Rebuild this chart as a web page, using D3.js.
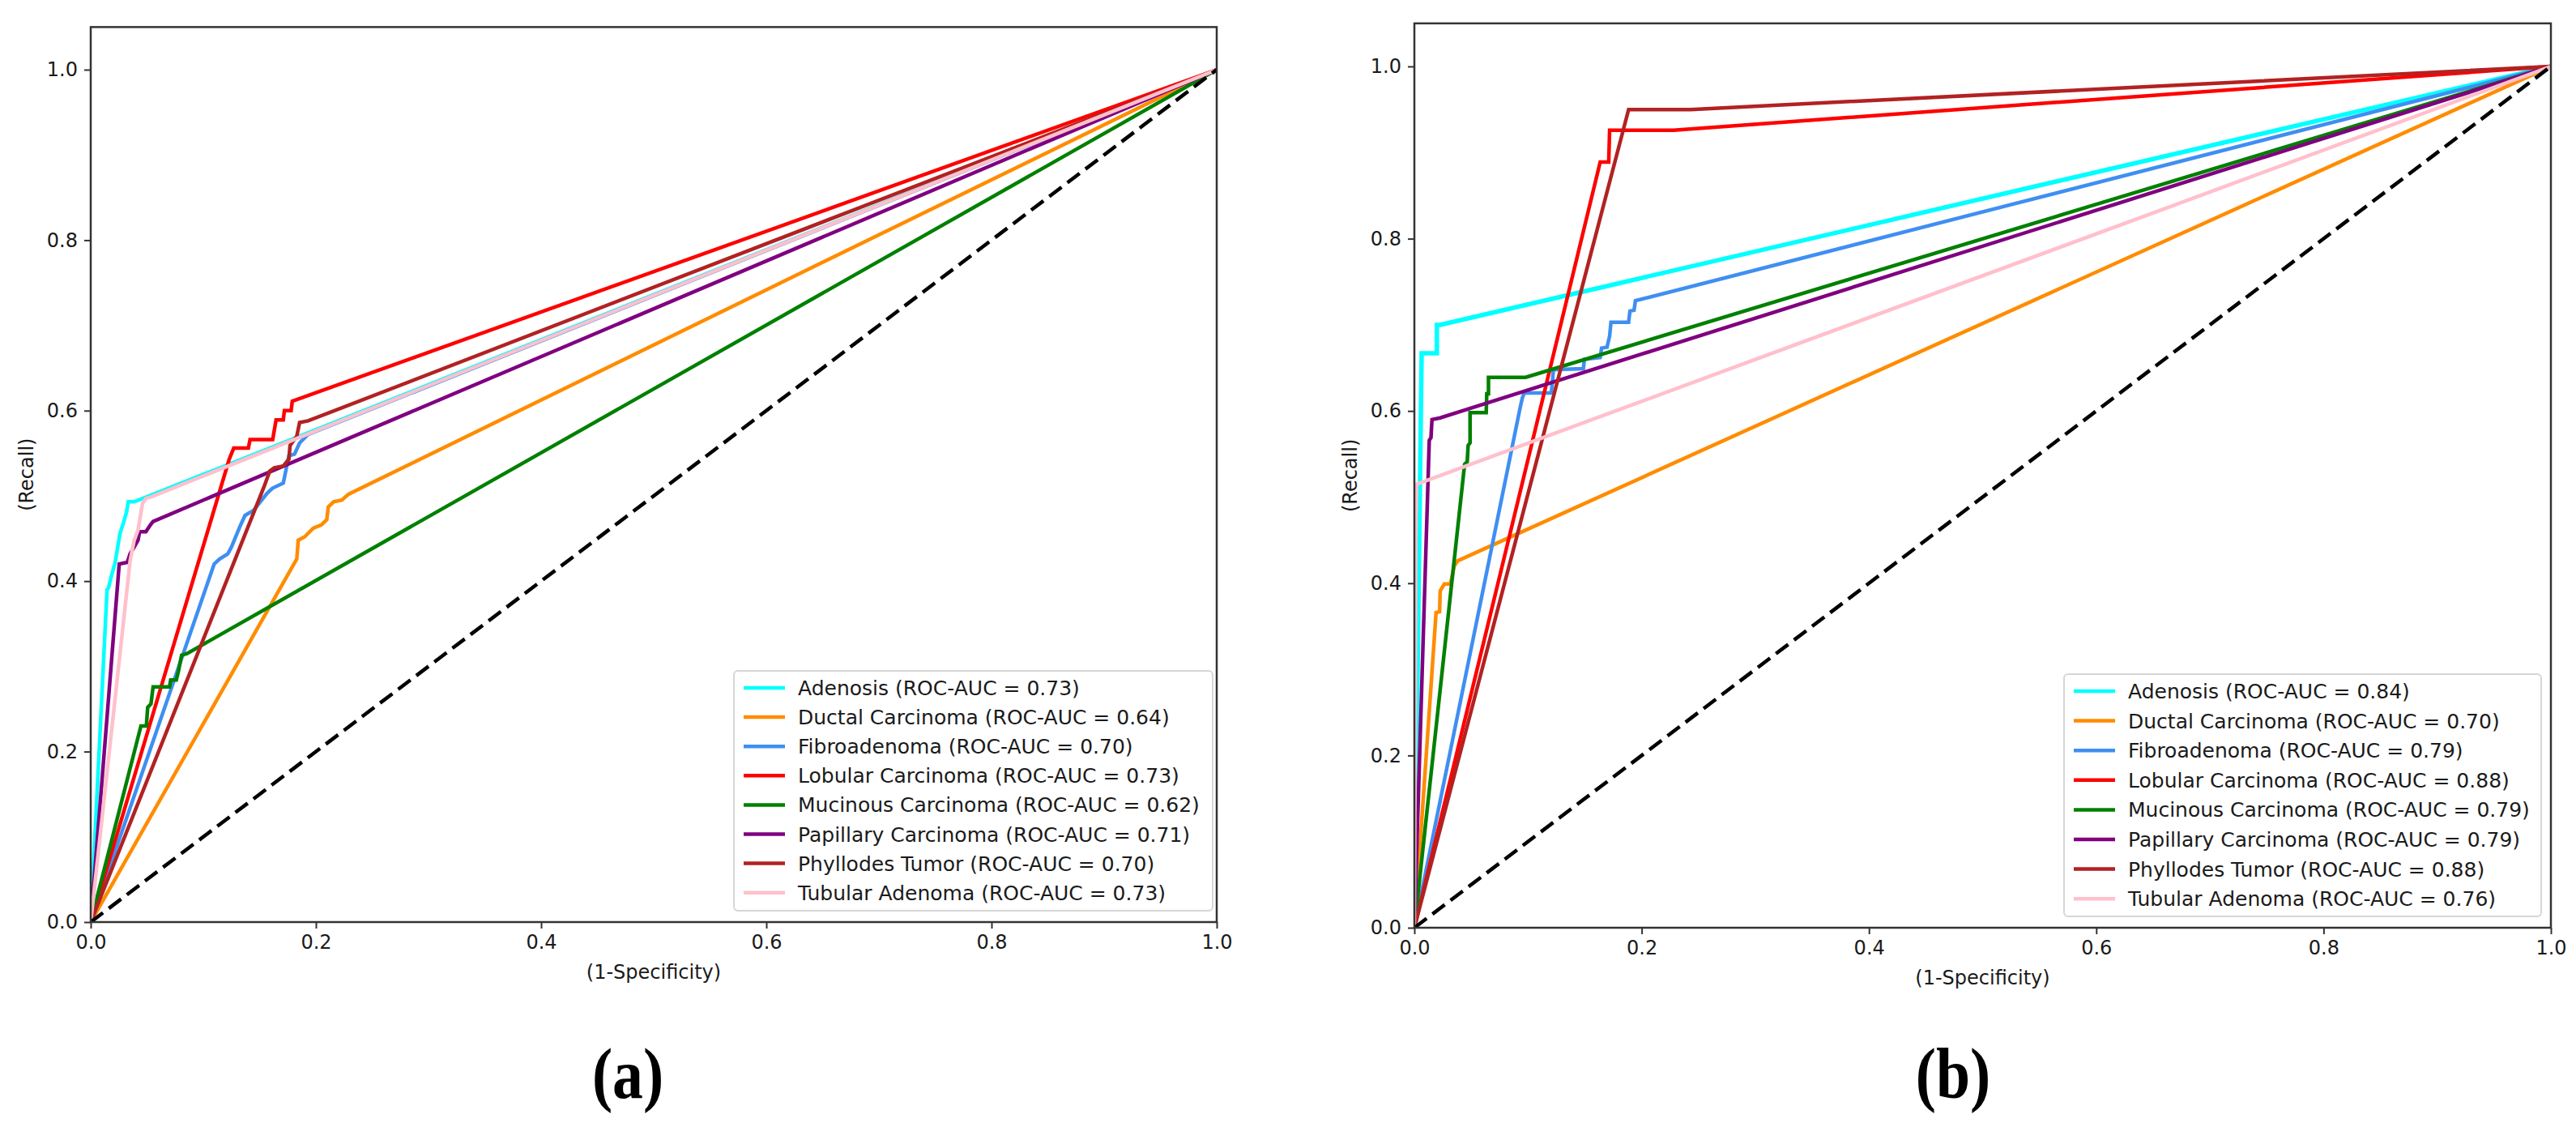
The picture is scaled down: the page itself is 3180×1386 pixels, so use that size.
<!DOCTYPE html>
<html>
<head>
<meta charset="utf-8">
<script src="https://cdn.jsdelivr.net/npm/d3@7"></script>
<style>
  body { margin: 0; background: #fff; }
  svg { display: block; }
  .tick text { font-family: "DejaVu Sans", sans-serif; font-size: 24px; fill: #1a1a1a; }
  .tick line { stroke: #333; stroke-width: 2; }
  .domain { display: none; }
</style>
</head>
<body>
<svg id="chart" width="3180" height="1386"></svg>
<script>
'use strict';

// class names, colours and AUC values
var classes = ["Adenosis", "Ductal Carcinoma", "Fibroadenoma", "Lobular Carcinoma",
               "Mucinous Carcinoma", "Papillary Carcinoma", "Phyllodes Tumor", "Tubular Adenoma"];
var colors = ["#00ffff", "#ff8c00", "#3f8ff2", "#ff0000", "#008000", "#800080", "#b22222", "#ffc0cb"];
var aucA = ["0.73", "0.64", "0.70", "0.73", "0.62", "0.71", "0.70", "0.73"];
var aucB = ["0.84", "0.70", "0.79", "0.88", "0.79", "0.79", "0.88", "0.76"];
var ticks = [0, 0.2, 0.4, 0.6, 0.8, 1.0];

// (a) ROC points [fpr, tpr]
var adenosisA = [[0,0],[0.0145,0.390],[0.0157,0.392],[0.0188,0.408],[0.0217,0.422],[0.026,0.456],
  [0.029,0.468],[0.0318,0.481],[0.0333,0.493],[0.0386,0.493],[0.176,0.565],[1,1]];
var ductalA = [[0,0],[0.183,0.426],[0.1843,0.448],[0.190,0.452],[0.1976,0.462],[0.2048,0.466],
  [0.2096,0.472],[0.211,0.487],[0.2157,0.493],[0.223,0.495],[0.229,0.502],[1,1]];
var fibroA = [[0,0],[0.1096,0.420],[0.1145,0.426],[0.1217,0.432],[0.125,0.440],[0.1325,0.464],
  [0.137,0.477],[0.1446,0.483],[0.1506,0.493],[0.1566,0.503],[0.1614,0.509],[0.171,0.515],
  [0.1735,0.531],[0.176,0.547],[0.181,0.549],[0.1855,0.562],[0.193,0.572],[1,1]];
var lobularA = [[0,0],[0.123,0.543],[0.127,0.556],[0.140,0.556],[0.1415,0.566],[0.1616,0.566],
  [0.1646,0.589],[0.171,0.589],[0.172,0.600],[0.178,0.600],[0.179,0.611],[1,1]];
var mucinousA = [[0,0],[0.0446,0.230],[0.0494,0.230],[0.0506,0.252],[0.0535,0.256],[0.0554,0.276],
  [0.070,0.276],[0.071,0.284],[0.076,0.284],[0.078,0.295],[0.0807,0.313],[0.0855,0.315],[1,1]];
var papillaryA = [[0,0],[0.0253,0.420],[0.0325,0.422],[0.035,0.432],[0.0386,0.440],[0.042,0.448],
  [0.0434,0.458],[0.049,0.458],[0.053,0.466],[0.0554,0.470],[1,1]];
var phyllodesA = [[0,0],[0.154,0.511],[0.159,0.529],[0.163,0.533],[0.171,0.535],[0.176,0.543],
  [0.177,0.559],[0.183,0.570],[0.1855,0.586],[0.193,0.588],[1,1]];
var tubularA = [[0,0],[0.035,0.424],[0.0386,0.448],[0.042,0.460],[0.046,0.491],[0.049,0.497],
  [0.054,0.499],[1,1]];

// (b) ROC points [fpr, tpr]
var adenosisB = [[0,0],[0.0064,0.667],[0.0198,0.667],[0.0198,0.700],[0.0227,0.700],[1,1]];
var ductalB = [[0,0],[0.0191,0.366],[0.0222,0.367],[0.0227,0.391],[0.0263,0.399],[0.0317,0.399],
  [0.0351,0.420],[0.0382,0.426],[1,1]];
var fibroB = [[0,0],[0.0931,0.604],[0.095,0.615],[0.0967,0.621],[0.1205,0.621],[0.1224,0.648],
  [0.1487,0.649],[0.1496,0.660],[0.1635,0.662],[0.1647,0.673],[0.1695,0.674],[0.1718,0.687],
  [0.173,0.703],[0.1885,0.703],[0.1897,0.716],[0.1933,0.717],[0.1945,0.728],[0.2005,0.730],[1,1]];
var lobularB = [[0,0],[0.1635,0.889],[0.171,0.889],[0.1718,0.926],[0.228,0.926],[1,1]];
var mucinousB = [[0,0],[0.0442,0.538],[0.0465,0.541],[0.0473,0.560],[0.049,0.563],[0.049,0.598],
  [0.0632,0.598],[0.0637,0.620],[0.0652,0.620],[0.0652,0.639],[0.0979,0.639],[1,1]];
var papillaryB = [[0,0],[0.0131,0.566],[0.0146,0.569],[0.0155,0.590],[0.0227,0.592],[1,1]];
var phyllodesB = [[0,0],[0.1885,0.950],[0.243,0.950],[1,1]];
var tubularB = [[0,0],[0.0012,0.450],[0.002,0.515],[1,1]];

var chanceLine = [[0,0],[1,1]];

var svg = d3.select("#chart");
svg.append("rect").attr("width", 3180).attr("height", 1386).attr("fill", "#fff");

function drawPanel(p) {
    var x = d3.scaleLinear().domain([0, 1]).range([p.left, p.right]);
    var y = d3.scaleLinear().domain([0, 1]).range([p.bottom, p.top1]);
    var yTop = y(1.05);

    var g = svg.append("g");
    var clipId = "clip-" + p.name;
    svg.append("clipPath").attr("id", clipId)
        .append("rect")
        .attr("x", p.left).attr("y", yTop)
        .attr("width", p.right - p.left).attr("height", p.bottom - yTop);

    var line = d3.line()
        .x(function (d) { return x(d[0]); })
        .y(function (d) { return y(d[1]); });

    var curves = g.append("g").attr("clip-path", "url(#" + clipId + ")");
    p.series.forEach(function (s, i) {
        curves.append("path")
            .datum(s)
            .attr("d", line)
            .attr("fill", "none")
            .attr("stroke", colors[i])
            .attr("stroke-width", p.widths ? p.widths[i] : 4.5)
            .attr("stroke-linejoin", "miter");
    });
    curves.append("path")
        .datum(chanceLine)
        .attr("d", line)
        .attr("fill", "none")
        .attr("stroke", "#000")
        .attr("stroke-width", 4.5)
        .attr("stroke-dasharray", "19,9");

    // axes
    g.append("g")
        .attr("transform", "translate(0," + p.bottom + ")")
        .call(d3.axisBottom(x).tickValues(ticks).tickFormat(d3.format(".1f")).tickSize(8).tickPadding(8));
    g.append("g")
        .attr("transform", "translate(" + p.left + ",0)")
        .call(d3.axisLeft(y).tickValues(ticks).tickFormat(d3.format(".1f")).tickSize(8).tickPadding(8));

    // frame
    g.append("rect")
        .attr("x", p.left).attr("y", yTop)
        .attr("width", p.right - p.left).attr("height", p.bottom - yTop)
        .attr("fill", "none").attr("stroke", "#333").attr("stroke-width", 2.5);

    // axis labels
    g.append("text")
        .attr("x", (p.left + p.right) / 2).attr("y", p.bottom + 62)
        .attr("dy", "0.35em")
        .attr("text-anchor", "middle")
        .style("font-family", "DejaVu Sans, sans-serif").style("font-size", "24px").style("fill", "#1a1a1a")
        .text("(1-Specificity)");
    g.append("text")
        .attr("transform", "translate(" + (p.left - 79) + "," + ((p.bottom + yTop) / 2) + ") rotate(-90)")
        .attr("dy", "0.35em")
        .attr("text-anchor", "middle")
        .style("font-family", "DejaVu Sans, sans-serif").style("font-size", "24px").style("fill", "#1a1a1a")
        .text("(Recall)");

    // legend
    var lg = g.append("g");
    lg.append("rect")
        .attr("x", p.legend[0]).attr("y", p.legend[1])
        .attr("width", p.legend[2]).attr("height", p.legend[3])
        .attr("rx", 5)
        .attr("fill", "#fff").attr("fill-opacity", 0.8)
        .attr("stroke", "#d6d6d6").attr("stroke-width", 2);
    classes.forEach(function (c, i) {
        var cy = p.legend[1] + 21 + i * p.rowGap;
        lg.append("line")
            .attr("x1", p.legend[0] + 12).attr("x2", p.legend[0] + 63)
            .attr("y1", cy).attr("y2", cy)
            .attr("stroke", colors[i]).attr("stroke-width", 4.5);
        lg.append("text")
            .attr("x", p.legend[0] + 79).attr("y", cy)
            .attr("dy", "0.36em")
            .style("font-family", "DejaVu Sans, sans-serif").style("font-size", "25px").style("fill", "#1a1a1a")
            .text(c + " (ROC-AUC = " + p.auc[i] + ")");
    });

    // panel letter
    g.append("text")
        .attr("transform", "translate(" + p.letterX + ",1355) scale(0.86,1)")
        .attr("text-anchor", "middle")
        .style("font-family", "Liberation Serif, serif").style("font-size", "88px")
        .style("font-weight", "bold").style("fill", "#000")
        .text(p.letter);
}

drawPanel({
    name: "a", left: 112, right: 1502, bottom: 1138, top1: 86,
    series: [adenosisA, ductalA, fibroA, lobularA, mucinousA, papillaryA, phyllodesA, tubularA],
    auc: aucA, legend: [906, 828, 591, 296], rowGap: 36.1,
    letter: "(a)", letterX: 775
});
drawPanel({
    name: "b", left: 1746, right: 3149, bottom: 1145, top1: 82,
    series: [adenosisB, ductalB, fibroB, lobularB, mucinousB, papillaryB, phyllodesB, tubularB],
    widths: [5.5, 4.5, 4.5, 4.5, 4.5, 4.5, 4.5, 4.5],
    auc: aucB, legend: [2548, 832, 589, 299], rowGap: 36.6,
    letter: "(b)", letterX: 2411
});
</script>
</body>
</html>
